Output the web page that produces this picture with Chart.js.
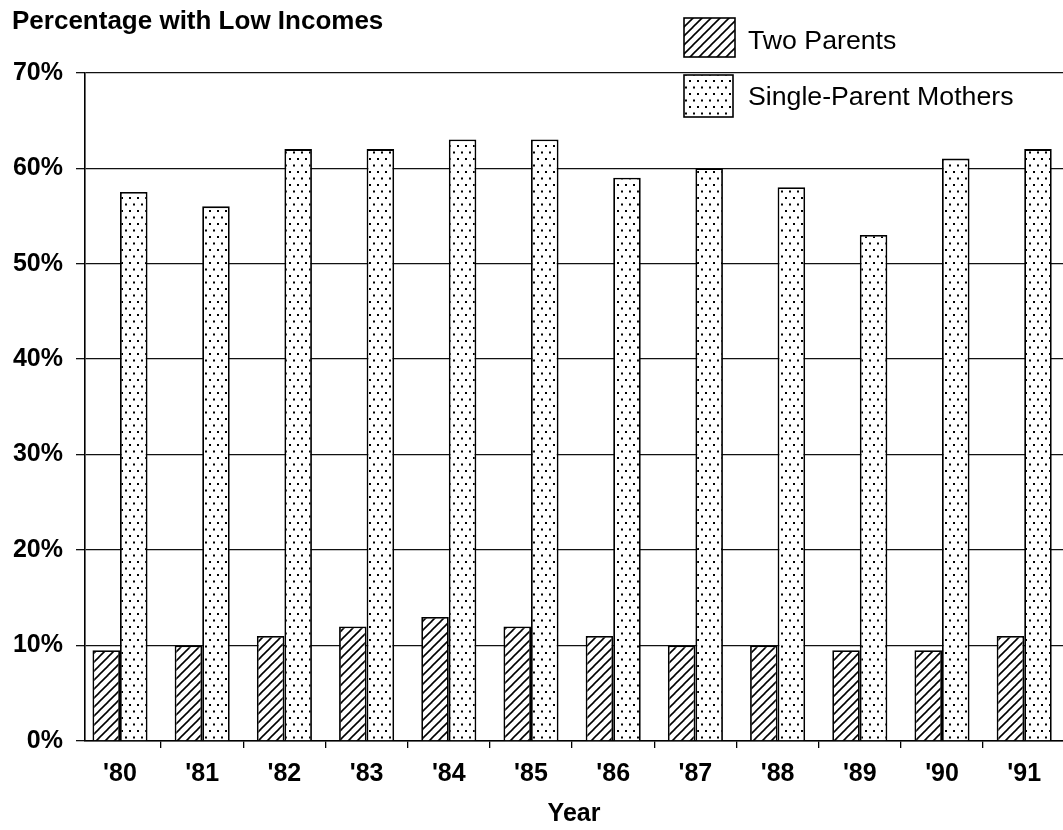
<!DOCTYPE html>
<html>
<head>
<meta charset="utf-8">
<script src="https://cdn.jsdelivr.net/npm/chart.js@4.4.1/dist/chart.umd.min.js"></script>
<style>
  html, body { margin: 0; padding: 0; background: #fff; overflow: hidden; }
  #c { display: block; }
</style>
</head>
<body>
<canvas id="c" width="1063" height="830"></canvas>
<script>
// Share of families with low incomes, by year and family type (%)
const years = ["'80", "'81", "'82", "'83", "'84", "'85", "'86", "'87", "'88", "'89", "'90", "'91"];
const twoParents = [9.5, 10, 11, 12, 13, 12, 11, 10, 10, 9.5, 9.5, 11];
const singleMothers = [57.5, 56, 62, 62, 63, 63, 59, 60, 58, 53, 61, 62];
const yTicks = [0, 10, 20, 30, 40, 50, 60, 70];
const seriesNames = ['Two Parents', 'Single-Parent Mothers'];

const FONT = '"Liberation Sans", Arial, Helvetica, sans-serif';
const canvas = document.getElementById('c');
const ctx = canvas.getContext('2d');

// diagonal hatch fill
function hatchPattern() {
  const a = 9, b = 9;
  const t = document.createElement('canvas');
  t.width = a; t.height = b;
  const g = t.getContext('2d');
  g.fillStyle = '#fff';
  g.fillRect(0, 0, a, b);
  g.strokeStyle = '#000';
  g.lineWidth = 1.6;
  for (let k = -1; k <= 1; k++) {
    g.beginPath();
    g.moveTo(-a, (2 + k) * b);
    g.lineTo(2 * a, (k - 1) * b);
    g.stroke();
  }
  return ctx.createPattern(t, 'repeat');
}

// staggered dot fill
function dotPattern() {
  const w = 8, h = 13;
  const t = document.createElement('canvas');
  t.width = w; t.height = h;
  const g = t.getContext('2d');
  g.fillStyle = '#fff';
  g.fillRect(0, 0, w, h);
  g.fillStyle = '#000';
  g.fillRect(1, 2, 2, 2);
  g.fillRect(5, 8.5, 2, 2);
  return ctx.createPattern(t, 'repeat');
}

const fills = [hatchPattern(), dotPattern()];

// legend boxes drawn at the upper right of the plot
const legendPlugin = {
  id: 'boxLegend',
  afterDraw(chart) {
    const c = chart.ctx;
    const boxes = [
      { x: 684, y: 18, w: 51, h: 39, ty: 41.5 },
      { x: 684, y: 75, w: 49, h: 42, ty: 98 }
    ];
    c.save();
    chart.data.datasets.forEach((ds, i) => {
      const b = boxes[i];
      c.fillStyle = ds.backgroundColor;
      c.fillRect(b.x, b.y, b.w, b.h);
      c.strokeStyle = '#000';
      c.lineWidth = 1.6;
      c.strokeRect(b.x, b.y, b.w, b.h);
      c.fillStyle = '#000';
      c.font = '26.7px ' + FONT;
      c.textAlign = 'left';
      c.textBaseline = 'middle';
      c.fillText(ds.label, 748, b.ty);
    });
    c.restore();
  }
};

new Chart(ctx, {
  type: 'bar',
  data: {
    datasets: [
      {
        label: seriesNames[0],
        data: years.map((_, i) => ({ x: i, y: twoParents[i] })),
        backgroundColor: fills[0],
        borderColor: '#000',
        borderWidth: 1.8,
        categoryPercentage: 0.67,
        barPercentage: 1.0
      },
      {
        label: seriesNames[1],
        data: years.map((_, i) => ({ x: i, y: singleMothers[i] })),
        backgroundColor: fills[1],
        borderColor: '#000',
        borderWidth: 1.8,
        categoryPercentage: 0.67,
        barPercentage: 1.0
      }
    ]
  },
  options: {
    responsive: false,
    animation: false,
    devicePixelRatio: 1,
    layout: { padding: { top: 0, left: 12, right: 0, bottom: 0 } },
    plugins: {
      legend: { display: false },
      tooltip: { enabled: false },
      title: {
        display: true,
        text: 'Percentage with Low Incomes',
        align: 'start',
        color: '#000',
        font: { family: FONT, size: 26, weight: 'bold', lineHeight: 1.2 },
        padding: { top: 6.4, bottom: 35.1 }
      }
    },
    scales: {
      x: {
        type: 'linear',
        min: -0.4258,
        max: 11.472,
        offset: false,
        afterBuildTicks: s => { s.ticks = years.map((_, i) => ({ value: i })); },
        afterFit: s => { s.height = 89; },
        grid: { display: true, drawOnChartArea: false, drawTicks: true, tickLength: 7, color: '#000', lineWidth: 1.3 },
        border: { display: true, color: '#000', width: 1.6 },
        ticks: {
          callback: v => years[v],
          color: '#000',
          font: { family: FONT, size: 25, weight: 'bold' },
          padding: 11,
          maxRotation: 0,
          autoSkip: false
        },
        title: {
          display: true,
          text: 'Year',
          color: '#000',
          font: { family: FONT, size: 25, weight: 'bold', lineHeight: 1.2 },
          padding: { top: 0, bottom: 1 }
        }
      },
      y: {
        min: 0,
        max: 70,
        afterBuildTicks: s => { s.ticks = yTicks.map(v => ({ value: v })); },
        afterFit: s => { s.width = 73; },
        grid: { color: '#111', lineWidth: 1.3, drawTicks: true, tickLength: 9 },
        border: { display: true, color: '#000', width: 1.6 },
        ticks: {
          callback: v => v + '%',
          color: '#000',
          font: { family: FONT, size: 25, weight: 'bold' },
          padding: 13
        }
      }
    }
  },
  plugins: [legendPlugin]
});
</script>
</body>
</html>
